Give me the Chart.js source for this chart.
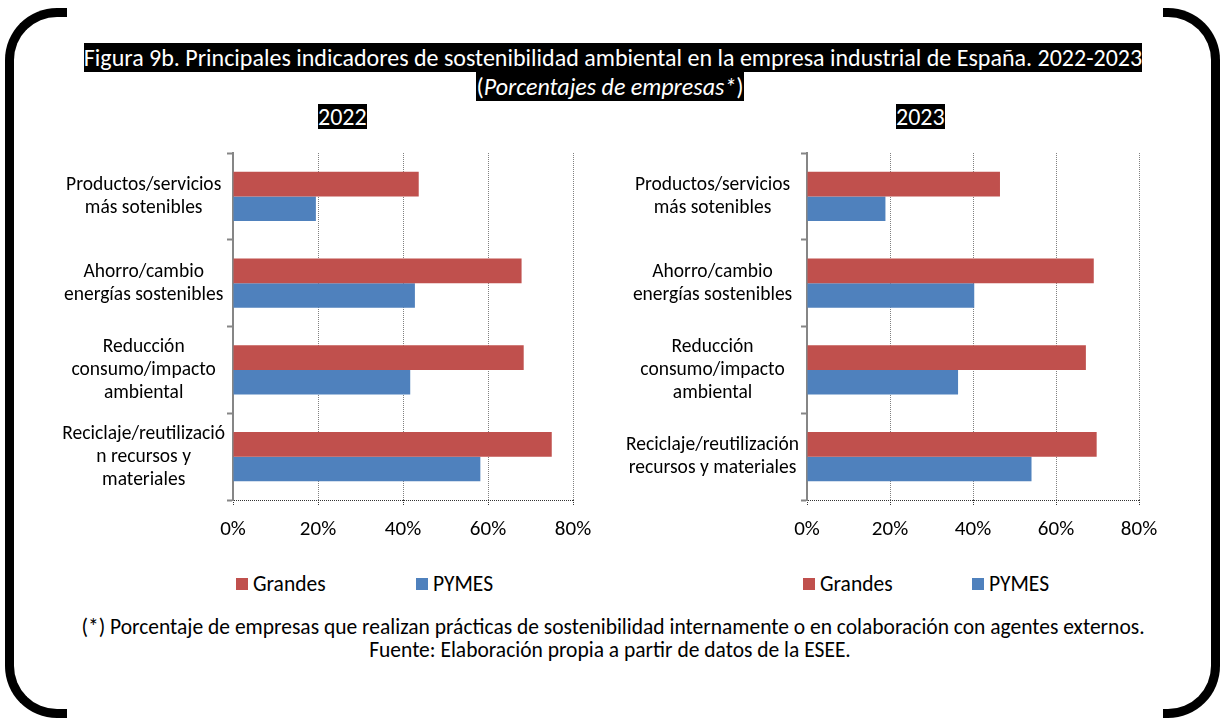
<!DOCTYPE html>
<html lang="es">
<head>
<meta charset="utf-8">
<title>Figura 9b</title>
<script src="https://cdn.jsdelivr.net/npm/chart.js@4.4.0/dist/chart.umd.min.js"></script>
<style>
  html, body { margin: 0; padding: 0; background: #fff; }
  body { width: 1220px; height: 718px; position: relative; overflow: hidden; font-family: Carlito, Lato, sans-serif; color: #000; }
  .frame { position: absolute; border: 9px solid #000; box-sizing: border-box; }
  .frame.left { left: 5px; top: 8px; width: 62px; height: 710px; border-right: none; border-radius: 52px 0 0 52px; }
  .frame.right { left: 1163px; top: 8px; width: 57px; height: 710px; border-left: none; border-radius: 0 52px 52px 0; }
  .line { position: absolute; left: 0; width: 1220px; text-align: center; white-space: nowrap; }
  .hl { background: #000; color: #fff; }
  #t1 { top: 43px; left: 3px; font-size: 24px; line-height: 29px; }
  #t2 { top: 74px; font-size: 24px; line-height: 25px; }
  .year { position: absolute; top: 104px; font-size: 24px; line-height: 25px; }
  #y2022 { left: 318px; }
  #y2023 { left: 896px; }
  .box { position: absolute; }
  #box2022 { left: 20px; top: 140px; width: 600px; height: 420px; }
  #box2023 { left: 600px; top: 140px; width: 600px; height: 420px; }
  .legend { position: absolute; top: 572px; display: flex; font-size: 21.5px; line-height: 24px; }
  .legend .item { display: flex; align-items: center; }
  .legend .sw { width: 12px; height: 12px; margin-right: 5px; }
  #leg2022 { left: 236px; }
  #leg2022 .item { width: 180px; }
  #leg2023 { left: 803px; }
  #leg2023 .item { width: 169px; }
  #f1 { top: 616px; left: 3px; font-size: 21.5px; line-height: 23px; }
  #f2 { top: 639px; font-size: 21.5px; line-height: 23px; }
</style>
</head>
<body>
<div class="frame left"></div>
<div class="frame right"></div>

<div class="line" id="t1"><span class="hl">Figura 9b. Principales indicadores de sostenibilidad ambiental en la empresa industrial de España. 2022-2023</span></div>
<div class="line" id="t2"><span class="hl">(<i>Porcentajes de empresas*</i>)</span></div>
<div class="year hl" id="y2022">2022</div>
<div class="year hl" id="y2023">2023</div>

<div class="box" id="box2022"><canvas id="c2022" width="600" height="420"></canvas></div>
<div class="box" id="box2023"><canvas id="c2023" width="600" height="420"></canvas></div>
<div class="legend" id="leg2022"></div>
<div class="legend" id="leg2023"></div>

<div class="line" id="f1">(*) Porcentaje de empresas que realizan prácticas de sostenibilidad internamente o en colaboración con agentes externos.</div>
<div class="line" id="f2">Fuente: Elaboración propia a partir de datos de la ESEE.</div>

<script>
// categories (as wrapped in the original)
const categories2022 = [
    ['Productos/servicios', 'más sotenibles'],
    ['Ahorro/cambio', 'energías sostenibles'],
    ['Reducción', 'consumo/impacto', 'ambiental'],
    ['Reciclaje/reutilizació', 'n recursos y', 'materiales']
];
const categories2023 = [
    ['Productos/servicios', 'más sotenibles'],
    ['Ahorro/cambio', 'energías sostenibles'],
    ['Reducción', 'consumo/impacto', 'ambiental'],
    ['Reciclaje/reutilización', 'recursos y materiales']
];
const seriesNames = ['Grandes', 'PYMES'];

// % of firms
const grandes2022 = [43.7, 67.9, 68.4, 75.0];
const pymes2022 = [19.5, 42.8, 41.7, 58.2];
const grandes2023 = [46.5, 69.1, 67.2, 69.8];
const pymes2023 = [18.9, 40.3, 36.4, 54.1];

const xTicks = [0, 20, 40, 60, 80];

const RED = '#C0504D';
const BLUE = '#4F81BD';
const FONT = 'Carlito, Lato, sans-serif';

function makeChart(canvasId, legendId, labels, grandes, pymes, yWidth, padRight) {
    const ctx = document.getElementById(canvasId).getContext('2d');
    const chart = new Chart(ctx, {
        type: 'bar',
        data: {
            labels: labels,
            datasets: [
                { label: seriesNames[0], data: grandes, backgroundColor: RED, barPercentage: 1, categoryPercentage: 0.565 },
                { label: seriesNames[1], data: pymes, backgroundColor: BLUE, barPercentage: 1, categoryPercentage: 0.565 }
            ]
        },
        options: {
            indexAxis: 'y',
            responsive: false,
            animation: false,
            layout: { padding: { top: 13, right: padRight, bottom: 10, left: 0 } },
            plugins: {
                legend: { display: false },
                tooltip: { enabled: false }
            },
            scales: {
                x: {
                    min: xTicks[0],
                    max: xTicks[xTicks.length - 1],
                    afterBuildTicks: s => { s.ticks = xTicks.map(v => ({ value: v })); },
                    afterFit: s => { s.height = 50; },
                    ticks: {
                        callback: v => v + '%',
                        color: '#000',
                        padding: 11,
                        font: { family: FONT, size: 21 }
                    },
                    grid: {
                        color: '#808080',
                        lineWidth: 1,
                        tickLength: 6,
                        tickColor: '#333',
                        tickBorderDash: [1, 1]
                    },
                    border: { display: false, dash: [1, 1] }
                },
                y: {
                    afterFit: s => {
                        s.width = yWidth;
                        // labels sit in the middle of each band, no overflow room needed
                        s.paddingTop = 0;
                        s.paddingBottom = 0;
                    },
                    ticks: {
                        color: '#000',
                        crossAlign: 'center',
                        padding: 2,
                        font: { family: FONT, size: 19.5, lineHeight: '23px' }
                    },
                    grid: {
                        offset: true,
                        // only the bottom boundary line is drawn (dotted), like the original x axis line
                        color: c => c.index === undefined ? '#333' : 'rgba(0,0,0,0)',
                        lineWidth: 1,
                        tickLength: 6,
                        tickColor: '#868686',
                        tickWidth: 2
                    },
                    border: { color: '#868686', width: 2, dash: [1, 1] }
                }
            }
        }
    });

    // html legend from the datasets
    const legend = document.getElementById(legendId);
    chart.data.datasets.forEach(ds => {
        const item = document.createElement('div');
        item.className = 'item';
        const sw = document.createElement('span');
        sw.className = 'sw';
        sw.style.background = ds.backgroundColor;
        const txt = document.createElement('span');
        txt.textContent = ds.label;
        item.appendChild(sw);
        item.appendChild(txt);
        legend.appendChild(item);
    });
    return chart;
}

makeChart('c2022', 'leg2022', categories2022, grandes2022, pymes2022, 213, 47);
makeChart('c2023', 'leg2023', categories2023, grandes2023, pymes2023, 207, 61);
</script>
</body>
</html>
